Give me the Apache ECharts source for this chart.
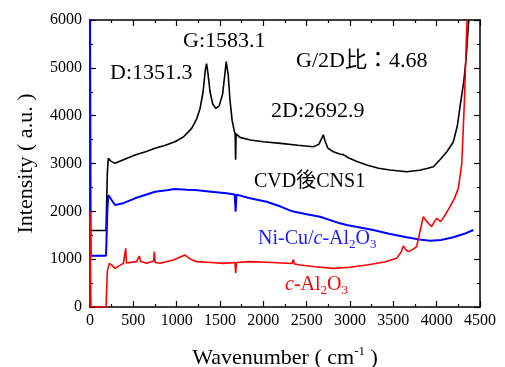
<!DOCTYPE html>
<html><head><meta charset="utf-8">
<script src="https://cdn.jsdelivr.net/npm/echarts@6/dist/echarts.min.js"></script>
<style>html,body{margin:0;padding:0;background:#fff}#c{width:505px;height:367px}</style>
</head><body><div id="c"></div>
<script>
// Raman spectra: [wavenumber, intensity]
const cnsData = [
 [0,1600],[185,1600],[200,2800],[211,3108],[240,3050],[288,3003],[400,3090],[519,3177],[650,3250],[750,3317],[870,3380],[981,3455],[1080,3560],
 [1173,3734],[1230,3930],[1270,4150],[1305,4500],[1330,4950],[1345,5090],[1360,4900],[1385,4500],[1415,4250],[1450,4155],[1490,4200],
 [1530,4450],[1555,4850],[1572,5130],[1580,5160],[1595,4850],[1615,4330],[1640,3900],[1665,3680],[1675,3620],[1680,3080],[1686,3620],
 [1731,3546],[1850,3490],[2000,3455],[2200,3420],[2400,3380],[2577,3350],[2640,3400],[2675,3530],[2692,3600],[2710,3480],[2745,3320],
 [2808,3246],[2880,3200],[2923,3185],[2980,3120],[3080,3040],[3192,2968],[3330,2900],[3461,2863],[3654,2828],[3800,2860],[3900,2900],
 [3962,2932],[4038,3080],[4120,3250],[4192,3450],[4240,3800],[4269,4186],[4315,4744],[4340,5200],[4370,6000]
];
const niData = [
 [0,6300],[8,1070],[185,1070],[200,2000],[211,2341],[231,2300],[288,2132],[385,2170],[519,2272],[750,2410],[885,2440],[981,2466],
 [1115,2450],[1211,2445],[1400,2410],[1577,2376],[1670,2350],[1680,1992],[1690,2350],[1846,2272],[2038,2201],[2200,2100],[2320,2010],
 [2340,2040],[2360,1990],[2500,1940],[2654,1887],[2885,1749],[2962,1714],[3269,1609],[3450,1530],[3654,1457],[3800,1410],[3923,1386],
 [4050,1400],[4192,1457],[4320,1530],[4423,1609]
];
const alData = [
 [0,2000],[10,0],[185,0],[200,750],[223,913],[250,880],[288,808],[385,913],[405,920],[412,1226],[420,920],[538,948],[569,1066],[585,950],
 [654,913],[735,960],[742,1157],[752,930],[808,913],[962,983],[1096,1087],[1150,1010],[1231,948],[1400,930],[1538,913],[1672,930],
 [1681,705],[1690,930],[1846,948],[2100,930],[2330,910],[2346,990],[2360,900],[2423,878],[2600,840],[2808,808],[3000,830],[3192,878],
 [3400,940],[3538,1017],[3590,1150],[3615,1275],[3645,1200],[3673,1157],[3730,1210],[3769,1261],[3810,1600],[3846,1888],[3880,1800],
 [3942,1679],[3975,1790],[4000,1853],[4046,1784],[4100,1930],[4154,2097],[4200,2250],[4250,2480],[4290,3000],[4320,4300],[4350,6000]
];
const xTicks = {min:0, max:4500, step:500};
const yTicks = {min:0, max:6000, step:1000};

const serif = '"Liberation Serif","Times New Roman","Noto Sans CJK JP",serif';
const chart = echarts.init(document.getElementById('c'), null, {renderer:'canvas'});
const plain = v => String(v);
function axisBase(extra){
  return Object.assign({
    axisLine:{show:true, onZero:false, lineStyle:{color:'#000', width:1.5}},
    axisTick:{show:true, inside:true, length:6, lineStyle:{color:'#000', width:1.2}},
    minorTick:{show:true, splitNumber:2, length:3, lineStyle:{color:'#000', width:1.2}},
    splitLine:{show:false}, minorSplitLine:{show:false}
  }, extra);
}
const subRich = (color) => ({
  n:{fontFamily:serif, fontSize:20, fill:color, verticalAlign:'middle', lineHeight:24},
  i:{fontFamily:serif, fontSize:20, fontStyle:'italic', fill:color, verticalAlign:'middle', lineHeight:24},
  s:{fontFamily:serif, fontSize:13, fill:color, verticalAlign:'bottom', lineHeight:12}
});
chart.setOption({
  animation:false,
  backgroundColor:'#fff',
  grid:{left:90, right:25, top:20, bottom:60, containLabel:false, outerBoundsMode:'none'},
  xAxis:[
    axisBase({type:'value', min:xTicks.min, max:xTicks.max, interval:xTicks.step, position:'bottom',
      axisLabel:{color:'#000', fontFamily:serif, fontSize:16, margin:6, formatter:plain},
      name:'{n|Wavenumber ( cm}{s|-1}{n| )}', nameLocation:'middle', nameGap:38,
      nameTextStyle:{rich:{n:{fontFamily:serif, fontSize:22, color:'#000', verticalAlign:'middle', lineHeight:26},
                           s:{fontFamily:serif, fontSize:13, color:'#000', verticalAlign:'top', lineHeight:12}}}}),
    axisBase({type:'value', min:xTicks.min, max:xTicks.max, interval:xTicks.step, position:'top',
      axisLabel:{show:false}})
  ],
  yAxis:[
    axisBase({type:'value', min:yTicks.min, max:yTicks.max, interval:yTicks.step, position:'left',
      axisLabel:{color:'#000', fontFamily:serif, fontSize:16, margin:8, formatter:plain},
      name:'Intensity ( a.u. )', nameLocation:'middle', nameGap:53,
      nameTextStyle:{fontFamily:serif, fontSize:22, color:'#000'}}),
    axisBase({type:'value', min:yTicks.min, max:yTicks.max, interval:yTicks.step, position:'right',
      axisLabel:{show:false}})
  ],
  series:[
    {type:'line', name:'CVD後CNS1', data:cnsData, showSymbol:false, clip:true, lineStyle:{color:'#000', width:1.6}, z:3},
    {type:'line', name:'Ni-Cu/c-Al2O3', data:niData, showSymbol:false, clip:true, lineStyle:{color:'#0000ff', width:2}, z:4},
    {type:'line', name:'c-Al2O3', data:alData, showSymbol:false, clip:true, lineStyle:{color:'#ff0000', width:1.6}, z:5}
  ],
  graphic:[
    {type:'text', left:110, top:62, style:{text:'D:1351.3', font:'22px '+serif, fill:'#000'}},
    {type:'text', left:183, top:30, style:{text:'G:1583.1', font:'22px '+serif, fill:'#000'}},
    {type:'text', left:296, top:50, style:{text:'G/2D比：4.68', font:'22px '+serif, fill:'#000'}},
    {type:'text', left:271, top:100, style:{text:'2D:2692.9', font:'22px '+serif, fill:'#000'}},
    {type:'text', left:254, top:172, style:{text:'CVD後CNS1', font:'20px '+serif, fill:'#000'}},
    {type:'text', left:258, top:229, style:{text:'{n|Ni-Cu/}{i|c}{n|-Al}{s|2}{n|O}{s|3}', rich:subRich('#1a1aff')}},
    {type:'text', left:285, top:275, style:{text:'{i|c}{n|-Al}{s|2}{n|O}{s|3}', rich:subRich('#ff0000')}}
  ]
});
</script></body></html>
